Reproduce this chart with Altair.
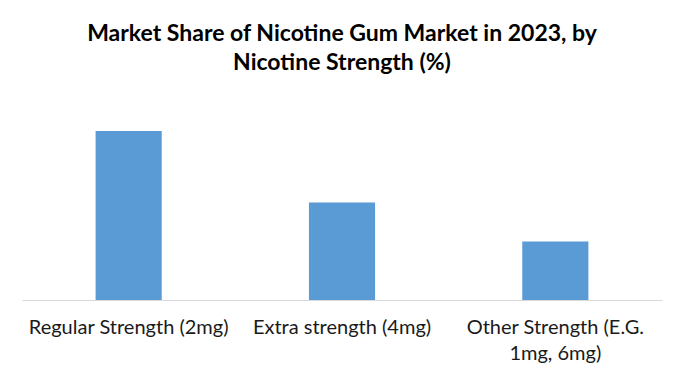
import altair as alt
import pandas as pd

categories = ["Regular Strength (2mg)", "Extra strength (4mg)", "Other Strength (E.G. 1mg, 6mg)"]
shares = [52, 30, 18]

df = pd.DataFrame({"category": categories, "share": shares})

label_expr = ("datum.label == 'Other Strength (E.G. 1mg, 6mg)' ? "
              "['Other Strength (E.G.', '1mg, 6mg)'] : datum.label")

chart = alt.Chart(df).mark_bar(color="#5b9bd5").encode(
    x=alt.X("category:N", sort=categories, title=None,
            scale=alt.Scale(paddingInner=0.69, paddingOuter=0.345),
            axis=alt.Axis(labelAngle=0, labelExpr=label_expr, labelLimit=400,
                          labelFont="Lato", labelFontSize=20, labelColor="#1a1a1a",
                          labelPadding=17, ticks=False, domainColor="#d9d9d9",
                          labelLineHeight=26, labelBaseline="top")),
    y=alt.Y("share:Q", title=None, scale=alt.Scale(domain=[0, 60]),
            axis=None),
).properties(
    width=640, height=195,
    padding={"left": 14, "right": 14, "top": 15, "bottom": 5},
    title=alt.TitleParams(
        text=["Market Share of Nicotine Gum Market in 2023, by", "Nicotine Strength (%)"],
        font="Lato", fontSize=23, fontWeight="bold", color="#000000",
        anchor="middle", lineHeight=29, offset=30),
).configure_view(stroke=None)

chart.save("out.html", embed_options={"renderer": "svg", "actions": False})
